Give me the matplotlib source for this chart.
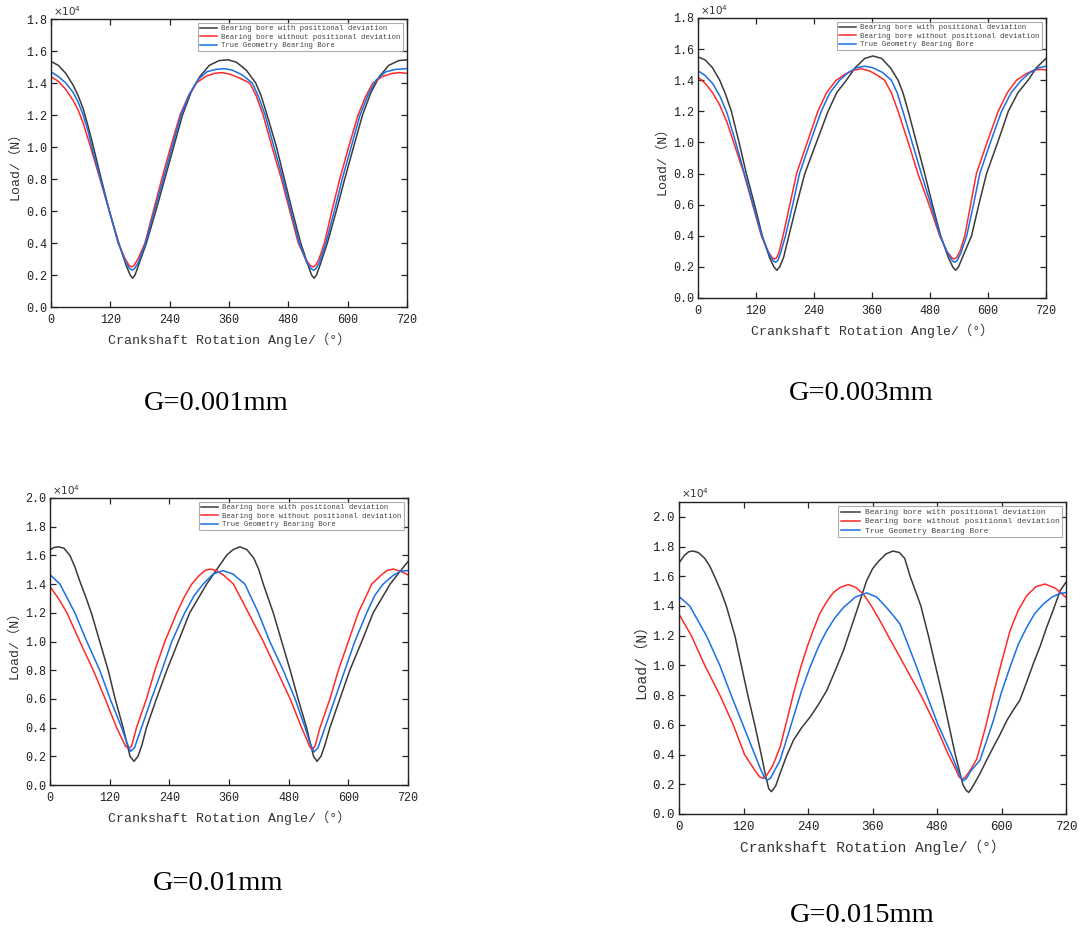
import matplotlib
matplotlib.use("Agg")
import matplotlib.pyplot as plt

# ---------------- data (Load in 1e4 N, angle in degrees) ----------------
series_labels = ["Bearing bore with positional deviation",
                 "Bearing bore without positional deviation",
                 "True Geometry Bearing Bore"]
captions = ["G=0.001mm", "G=0.003mm", "G=0.01mm", "G=0.015mm"]
x_ticks = [0, 120, 240, 360, 480, 600, 720]

# G = 0.001 mm
g001_black_ang = [0, 15, 30, 45, 55, 65, 75, 85, 100, 118, 137, 152, 160, 165, 170, 178, 193, 212, 230, 248, 266, 283, 301, 320, 340, 358, 375, 395, 414, 425, 437, 456, 472, 488, 505, 520, 527, 532, 537, 545, 559, 577, 594, 612, 630, 647, 664, 683, 703, 720]
g001_black_val = [1.535, 1.51, 1.46, 1.385, 1.32, 1.24, 1.13, 1.01, 0.82, 0.6, 0.4, 0.26, 0.2, 0.18, 0.2, 0.27, 0.4, 0.6, 0.8, 1.0, 1.2, 1.34, 1.44, 1.51, 1.54, 1.545, 1.53, 1.48, 1.40, 1.32, 1.2, 1.0, 0.8, 0.6, 0.4, 0.26, 0.2, 0.18, 0.2, 0.27, 0.4, 0.6, 0.8, 1.0, 1.2, 1.34, 1.44, 1.51, 1.54, 1.545]
g001_red_ang = [0, 15, 30, 45, 55, 65, 80, 99, 118, 136, 150, 158, 163, 168, 176, 190, 207, 224, 242, 261, 278, 294, 312, 330, 345, 362, 382, 402, 415, 429, 447, 466, 483, 500, 515, 524, 530, 535, 542, 553, 568, 584, 602, 621, 637, 651, 670, 690, 705, 720]
g001_red_val = [1.44, 1.41, 1.36, 1.29, 1.23, 1.15, 1.0, 0.8, 0.6, 0.4, 0.3, 0.26, 0.25, 0.26, 0.3, 0.4, 0.6, 0.8, 1.0, 1.2, 1.32, 1.4, 1.44, 1.46, 1.465, 1.455, 1.43, 1.4, 1.32, 1.2, 1.0, 0.8, 0.6, 0.4, 0.3, 0.26, 0.25, 0.26, 0.3, 0.4, 0.6, 0.8, 1.0, 1.2, 1.32, 1.4, 1.44, 1.46, 1.465, 1.46]
g001_blue_ang = [0, 15, 30, 45, 55, 65, 75, 85, 100, 118, 136, 151, 159, 164, 169, 177, 191, 209, 227, 245, 263, 280, 297, 315, 333, 350, 367, 387, 407, 419, 433, 451, 469, 485, 502, 517, 526, 531, 536, 543, 556, 573, 589, 607, 625, 642, 658, 677, 697, 720]
g001_blue_val = [1.47, 1.44, 1.40, 1.34, 1.28, 1.2, 1.1, 0.97, 0.8, 0.6, 0.4, 0.28, 0.24, 0.23, 0.24, 0.28, 0.4, 0.6, 0.8, 1.0, 1.2, 1.33, 1.42, 1.47, 1.485, 1.49, 1.48, 1.45, 1.4, 1.32, 1.2, 1.0, 0.8, 0.6, 0.4, 0.28, 0.24, 0.23, 0.24, 0.28, 0.4, 0.6, 0.8, 1.0, 1.2, 1.33, 1.42, 1.47, 1.485, 1.49]

# G = 0.003 mm
g003_black_ang = [0, 15, 30, 45, 57, 69, 85, 100, 117, 133, 148, 157, 163, 169, 177, 188, 204, 221, 245, 269, 287, 307, 325, 345, 362, 380, 398, 414, 424, 435, 452, 469, 485, 502, 518, 527, 533, 539, 547, 566, 581, 597, 620, 642, 662, 683, 700, 720]
g003_black_val = [1.55, 1.53, 1.48, 1.40, 1.31, 1.2, 1.0, 0.8, 0.6, 0.4, 0.26, 0.2, 0.178, 0.2, 0.26, 0.4, 0.6, 0.8, 1.0, 1.2, 1.32, 1.4, 1.48, 1.54, 1.556, 1.54, 1.48, 1.4, 1.32, 1.2, 1.0, 0.8, 0.6, 0.4, 0.26, 0.2, 0.178, 0.2, 0.26, 0.4, 0.6, 0.8, 1.0, 1.2, 1.32, 1.4, 1.48, 1.54]
g003_red_ang = [0, 15, 30, 45, 60, 77, 95, 113, 131, 145, 153, 158, 163, 168, 176, 190, 204, 226, 248, 266, 286, 305, 322, 338, 355, 372, 386, 400, 414, 435, 455, 478, 500, 515, 525, 530, 535, 542, 552, 564, 576, 598, 621, 640, 659, 678, 695, 710, 720]
g003_red_val = [1.42, 1.38, 1.32, 1.24, 1.13, 0.97, 0.8, 0.6, 0.4, 0.3, 0.26, 0.25, 0.26, 0.3, 0.4, 0.6, 0.8, 1.0, 1.2, 1.32, 1.4, 1.44, 1.465, 1.473, 1.46, 1.43, 1.4, 1.32, 1.2, 1.0, 0.8, 0.6, 0.4, 0.3, 0.26, 0.25, 0.26, 0.3, 0.4, 0.6, 0.8, 1.0, 1.2, 1.32, 1.4, 1.44, 1.465, 1.47, 1.465]
g003_blue_ang = [0, 15, 30, 45, 60, 78, 96, 114, 132, 146, 155, 160, 165, 171, 181, 196, 210, 232, 255, 273, 293, 311, 328, 345, 362, 382, 400, 412, 424, 443, 462, 482, 501, 516, 526, 531, 536, 544, 556, 570, 583, 605, 628, 648, 669, 687, 705, 720]
g003_blue_val = [1.46, 1.43, 1.38, 1.30, 1.19, 1.0, 0.8, 0.6, 0.4, 0.29, 0.24, 0.23, 0.24, 0.29, 0.4, 0.6, 0.8, 1.0, 1.2, 1.32, 1.4, 1.45, 1.48, 1.49, 1.48, 1.45, 1.4, 1.32, 1.2, 1.0, 0.8, 0.6, 0.4, 0.29, 0.24, 0.23, 0.24, 0.29, 0.4, 0.6, 0.8, 1.0, 1.2, 1.32, 1.4, 1.45, 1.48, 1.49]

# G = 0.01 mm
g010_black_ang = [0, 8, 17, 28, 40, 50, 60, 72, 84, 100, 117, 131, 147, 161, 169, 177, 185, 194, 214, 235, 258, 281, 298, 315, 335, 355, 368, 382, 396, 410, 420, 429, 449, 466, 483, 499, 516, 530, 537, 545, 553, 563, 583, 603, 627, 650, 667, 684, 702, 720]
g010_black_val = [1.638, 1.655, 1.66, 1.65, 1.6, 1.52, 1.42, 1.31, 1.19, 1.0, 0.8, 0.6, 0.4, 0.2, 0.165, 0.2, 0.28, 0.4, 0.6, 0.8, 1.0, 1.2, 1.3, 1.4, 1.5, 1.6, 1.64, 1.66, 1.64, 1.58, 1.5, 1.4, 1.2, 1.0, 0.8, 0.6, 0.4, 0.2, 0.165, 0.2, 0.28, 0.4, 0.6, 0.8, 1.0, 1.2, 1.3, 1.4, 1.48, 1.557]
g010_red_ang = [0, 17, 34, 60, 87, 111, 134, 145, 152, 158, 164, 174, 194, 211, 231, 255, 270, 285, 300, 312, 322, 335, 350, 369, 399, 429, 456, 483, 506, 516, 522, 527, 533, 543, 563, 580, 600, 620, 635, 647, 665, 678, 690, 705, 720]
g010_red_val = [1.383, 1.3, 1.2, 1.0, 0.8, 0.6, 0.4, 0.32, 0.27, 0.255, 0.27, 0.4, 0.6, 0.8, 1.0, 1.2, 1.31, 1.4, 1.46, 1.495, 1.505, 1.495, 1.46, 1.4, 1.2, 1.0, 0.8, 0.6, 0.4, 0.32, 0.27, 0.245, 0.27, 0.4, 0.6, 0.8, 1.0, 1.2, 1.31, 1.4, 1.46, 1.495, 1.505, 1.49, 1.464]
g010_blue_ang = [0, 20, 50, 74, 100, 121, 144, 154, 162, 170, 184, 204, 225, 245, 271, 290, 308, 328, 348, 368, 392, 419, 442, 469, 493, 513, 522, 531, 539, 553, 573, 593, 613, 637, 653, 670, 690, 705, 720]
g010_blue_val = [1.466, 1.4, 1.2, 1.0, 0.8, 0.6, 0.4, 0.3, 0.234, 0.26, 0.4, 0.6, 0.8, 1.0, 1.2, 1.32, 1.4, 1.47, 1.494, 1.47, 1.4, 1.2, 1.0, 0.8, 0.6, 0.4, 0.3, 0.23, 0.26, 0.4, 0.6, 0.8, 1.0, 1.2, 1.32, 1.4, 1.46, 1.49, 1.494]

# G = 0.015 mm
g015_black_ang = [0, 10, 18, 26, 36, 48, 57, 66, 78, 88, 104, 116, 128, 141, 153, 161, 167, 172, 180, 188, 200, 213, 228, 244, 260, 275, 290, 306, 318, 331, 340, 349, 360, 371, 385, 398, 410, 420, 430, 450, 464, 477, 490, 502, 514, 528, 534, 539, 544, 552, 560, 572, 585, 598, 610, 622, 634, 646, 659, 672, 684, 697, 709, 720]
g015_black_val = [1.69, 1.74, 1.765, 1.77, 1.76, 1.72, 1.67, 1.6, 1.5, 1.4, 1.2, 1.0, 0.8, 0.6, 0.4, 0.26, 0.17, 0.15, 0.19, 0.273, 0.39, 0.497, 0.58, 0.653, 0.74, 0.832, 0.96, 1.10, 1.23, 1.37, 1.47, 1.57, 1.65, 1.70, 1.75, 1.77, 1.76, 1.72, 1.6, 1.4, 1.2, 1.0, 0.8, 0.6, 0.4, 0.2, 0.16, 0.145, 0.17, 0.22, 0.273, 0.36, 0.452, 0.54, 0.63, 0.70, 0.765, 0.88, 1.01, 1.13, 1.257, 1.38, 1.503, 1.56]
g015_red_ang = [0, 23, 48, 76, 101, 122, 140, 150, 156, 163, 175, 188, 200, 213, 225, 238, 250, 262, 275, 287, 300, 315, 329, 343, 358, 374, 392, 411, 430, 450, 477, 501, 515, 521, 526, 532, 541, 554, 570, 585, 600, 616, 631, 647, 664, 681, 700, 720]
g015_red_val = [1.345, 1.2, 1.0, 0.8, 0.6, 0.4, 0.3, 0.25, 0.24, 0.26, 0.33, 0.45, 0.62, 0.81, 0.97, 1.12, 1.24, 1.35, 1.43, 1.49, 1.525, 1.544, 1.525, 1.48, 1.40, 1.30, 1.18, 1.056, 0.93, 0.8, 0.6, 0.4, 0.3, 0.25, 0.235, 0.245, 0.29, 0.37, 0.58, 0.81, 1.02, 1.235, 1.37, 1.47, 1.53, 1.548, 1.52, 1.458]
g015_blue_ang = [0, 20, 51, 76, 97, 119, 141, 152, 160, 164, 170, 176, 188, 200, 213, 228, 244, 260, 275, 290, 306, 328, 349, 368, 386, 400, 411, 425, 441, 461, 482, 507, 518, 525, 530, 535, 543, 550, 560, 572, 585, 600, 616, 631, 647, 662, 678, 694, 709, 720]
g015_blue_val = [1.464, 1.4, 1.2, 1.0, 0.8, 0.6, 0.4, 0.3, 0.24, 0.228, 0.24, 0.28, 0.362, 0.5, 0.653, 0.83, 0.99, 1.13, 1.235, 1.32, 1.39, 1.46, 1.488, 1.46, 1.39, 1.33, 1.28, 1.15, 1.0, 0.8, 0.6, 0.4, 0.3, 0.24, 0.225, 0.24, 0.29, 0.32, 0.362, 0.49, 0.63, 0.82, 0.99, 1.14, 1.257, 1.35, 1.414, 1.46, 1.485, 1.49]

y_limits = [1.8, 1.8, 2.0, 2.1]
y_tick_tops = [1.8, 1.8, 2.0, 2.0]

# ---------------- styling ----------------
colors = ["#3a3a3a", "#ff2a2a", "#1a6fe6"]
mono = ["Liberation Mono", "Noto Sans CJK SC", "DejaVu Sans"]
plt.rcParams["font.family"] = mono

fig = plt.figure(figsize=(10.79, 9.31), dpi=100)

rects = [
    [51 / 1079, 1 - 307 / 931, 356 / 1079, 288 / 931],
    [698 / 1079, 1 - 298 / 931, 348 / 1079, 280 / 931],
    [50 / 1079, 1 - 785 / 931, 358 / 1079, 287 / 931],
    [679 / 1079, 1 - 814 / 931, 387 / 1079, 312 / 931],
]
caption_pos = [(216, 404), (861, 393), (218, 884), (862, 916)]

data = [
    [(g001_black_ang, g001_black_val), (g001_red_ang, g001_red_val), (g001_blue_ang, g001_blue_val)],
    [(g003_black_ang, g003_black_val), (g003_red_ang, g003_red_val), (g003_blue_ang, g003_blue_val)],
    [(g010_black_ang, g010_black_val), (g010_red_ang, g010_red_val), (g010_blue_ang, g010_blue_val)],
    [(g015_black_ang, g015_black_val), (g015_red_ang, g015_red_val), (g015_blue_ang, g015_blue_val)],
]

for i in range(4):
    ax = fig.add_axes(rects[i])
    for j, (xa, ya) in enumerate(data[i]):
        ax.plot(xa, ya, color=colors[j], lw=1.1, label=series_labels[j],
                solid_joinstyle="round")
    ax.set_xlim(0, 720)
    ax.set_ylim(0, y_limits[i])
    ax.set_xticks(x_ticks)
    n = int(round(y_tick_tops[i] / 0.2))
    yt = [k * 0.2 for k in range(n + 1)]
    ax.set_yticks(yt)
    ax.set_yticklabels(["%.1f" % v for v in yt])
    big = i == 3
    ax.tick_params(direction="in", length=4, width=0.9, top=True, right=True,
                   labelsize=8.5 if not big else 9, colors="#222222")
    ax.tick_params(axis="x", pad=5)
    ax.tick_params(axis="y", pad=3)
    for s in ax.spines.values():
        s.set_linewidth(1.0)
        s.set_color("#222222")
    ax.set_xlabel("Crankshaft Rotation Angle/（°）", fontsize=9.5 if not big else 10.5,
                  family=mono, color="#333333", labelpad=5)
    ax.set_ylabel("Load/（N）", fontsize=9.5 if not big else 10.5, family=mono,
                  color="#333333", labelpad=3)
    ax.text(0.005, 1.005, r"$\times10^4$", transform=ax.transAxes, ha="left",
            va="bottom", fontsize=7.5, color="#333333", family="DejaVu Sans")
    fs = 5.2 if not big else 5.7
    leg = ax.legend(loc="upper right", frameon=True, fancybox=False, handlelength=2.4,
                    borderpad=0.3, labelspacing=0.2, handletextpad=0.6,
                    borderaxespad=0.55, prop={"family": mono, "size": fs})
    leg.get_frame().set_edgecolor("#999999")
    leg.get_frame().set_linewidth(0.8)
    for t in leg.get_texts():
        t.set_color("#444444")
    cx, cy = caption_pos[i]
    fig.text(cx / 1079, 1 - cy / 931, captions[i], ha="center", va="center",
             fontsize=20.5, family="Liberation Serif", color="black")

fig.savefig("out.png", dpi=100)
